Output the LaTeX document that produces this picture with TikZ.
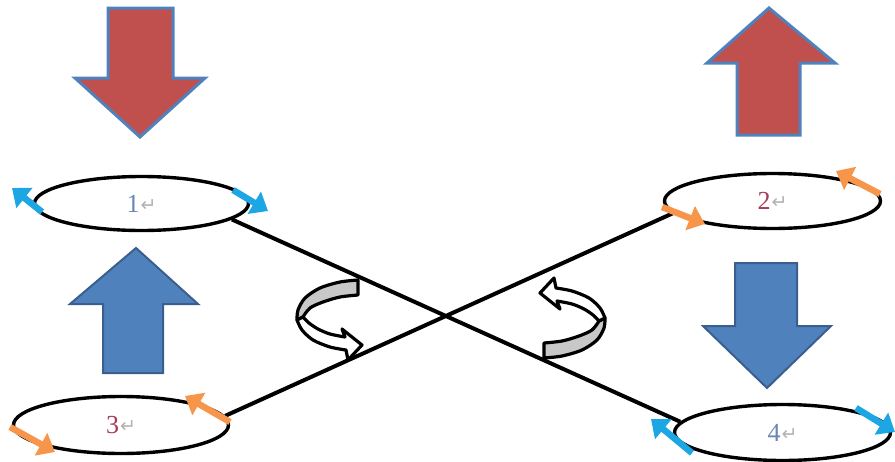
\documentclass[tikz,border=0pt]{standalone}
\usepackage{fontspec}
\setmainfont{Liberation Serif}
\newfontfamily\symfont{DejaVu Sans}
\usetikzlibrary{shapes.geometric,arrows.meta}

\definecolor{officered}{HTML}{C0504D}
\definecolor{officeblue}{HTML}{4F81BD}
\definecolor{blueedge}{HTML}{3A5F8E}
\definecolor{spincyan}{HTML}{1CA6E3}
\definecolor{spinorange}{HTML}{F7964A}
\definecolor{labelblue}{HTML}{6A86B8}
\definecolor{labelred}{HTML}{A33D5A}
\definecolor{ribbongray}{HTML}{C8C8C8}

% digit followed by a small return mark
\newcommand{\ringtext}[2]{{\color{#1}\fontsize{26}{28}\selectfont #2}\kern1pt{\symfont\color{gray!60}\fontsize{19}{20}\selectfont\raisebox{1pt}{↵}}}

\begin{document}
\begin{tikzpicture}[x=1pt,y=-1pt,
  ring/.style={ellipse, draw=black, line width=3.4pt, fill=white, inner sep=0pt},
  blockred/.style={fill=officered, draw=officeblue, line width=3pt, line join=miter},
  blockblue/.style={fill=officeblue, draw=blueedge, line width=2pt, line join=miter},
  link/.style={draw=black, line width=4pt},
  cyanturn/.style={draw=spincyan, line width=6.5pt, -{Triangle[length=16pt,width=25pt]}},
  orangeturn/.style={draw=spinorange, line width=6.5pt, -{Triangle[length=16pt,width=25pt]}},
  ribbon/.style={draw=black, line width=3.2pt, line join=round},
  twist/.pic={
    % grey back face of the ring
    \filldraw[ribbon, fill=ribbongray]
      plot[smooth] coordinates {(28,-39) (10,-37) (-10,-31) (-25,-21) (-32,-9) (-33,1)}
      -- plot[smooth] coordinates {(-27,-2) (-20,-11) (-7,-17) (10,-22) (28,-24)}
      -- cycle;
    % white front face ending in the arrow head
    \filldraw[ribbon, fill=white]
      plot[smooth] coordinates {(-33,1) (-28,11) (-17,21) (0,28) (16,31)}
      -- (18,41) -- (32,26) -- (12,10) -- (15,18)
      -- plot[smooth] coordinates {(15,18) (0,15) (-12,10) (-21,4) (-27,-2)}
      -- cycle;
  }
]
\useasboundingbox (0,0) rectangle (895,461);

% block arrows
\path[blockred] (108,8) -- (173,8) -- (173,78) -- (205,78) -- (140,137)
  -- (75,78) -- (108,78) -- cycle;
\path[blockred] (769,8) -- (835,63) -- (800,63) -- (800,135) -- (737,135)
  -- (737,63) -- (707,63) -- cycle;
\path[blockblue] (136,248) -- (198,304) -- (163,304) -- (163,373) -- (103,373)
  -- (103,304) -- (70,304) -- cycle;
\path[blockblue] (735,263) -- (797,263) -- (797,326) -- (831,326) -- (767,388)
  -- (703,326) -- (735,326) -- cycle;

% rings
\node[ring, minimum width=214pt, minimum height=54pt] (e1) at (141.5,203.5) {\ringtext{labelblue}{1}};
\node[ring, minimum width=216pt, minimum height=55pt] (e2) at (772.5,201) {\ringtext{labelred}{2}};
\node[ring, minimum width=215pt, minimum height=57pt] (e3) at (121,425) {\ringtext{labelred}{3}};
\node[ring, minimum width=216pt, minimum height=56pt] (e4) at (782.5,432.5) {\ringtext{labelblue}{4}};

% crossed links
\draw[link] (e1.-10) -- (e4.174);
\draw[link] (e3.5) -- (e2.187);

% rotation symbols
\pic at (330,319) {twist};
\pic[rotate=180] at (572,319) {twist};

% spin arrows on the rings
\draw[cyanturn] (42,212) -- (12,188);
\draw[cyanturn] (233,190) -- (268,211);
\draw[orangeturn] (662,207) -- (705,224);
\draw[orangeturn] (880,194) -- (836,171);
\draw[orangeturn] (230,422) -- (185,396);
\draw[orangeturn] (10,427) -- (55,452);
\draw[cyanturn] (692,453) -- (651,419);
\draw[cyanturn] (856,408) -- (895,432);
\end{tikzpicture}
\end{document}
